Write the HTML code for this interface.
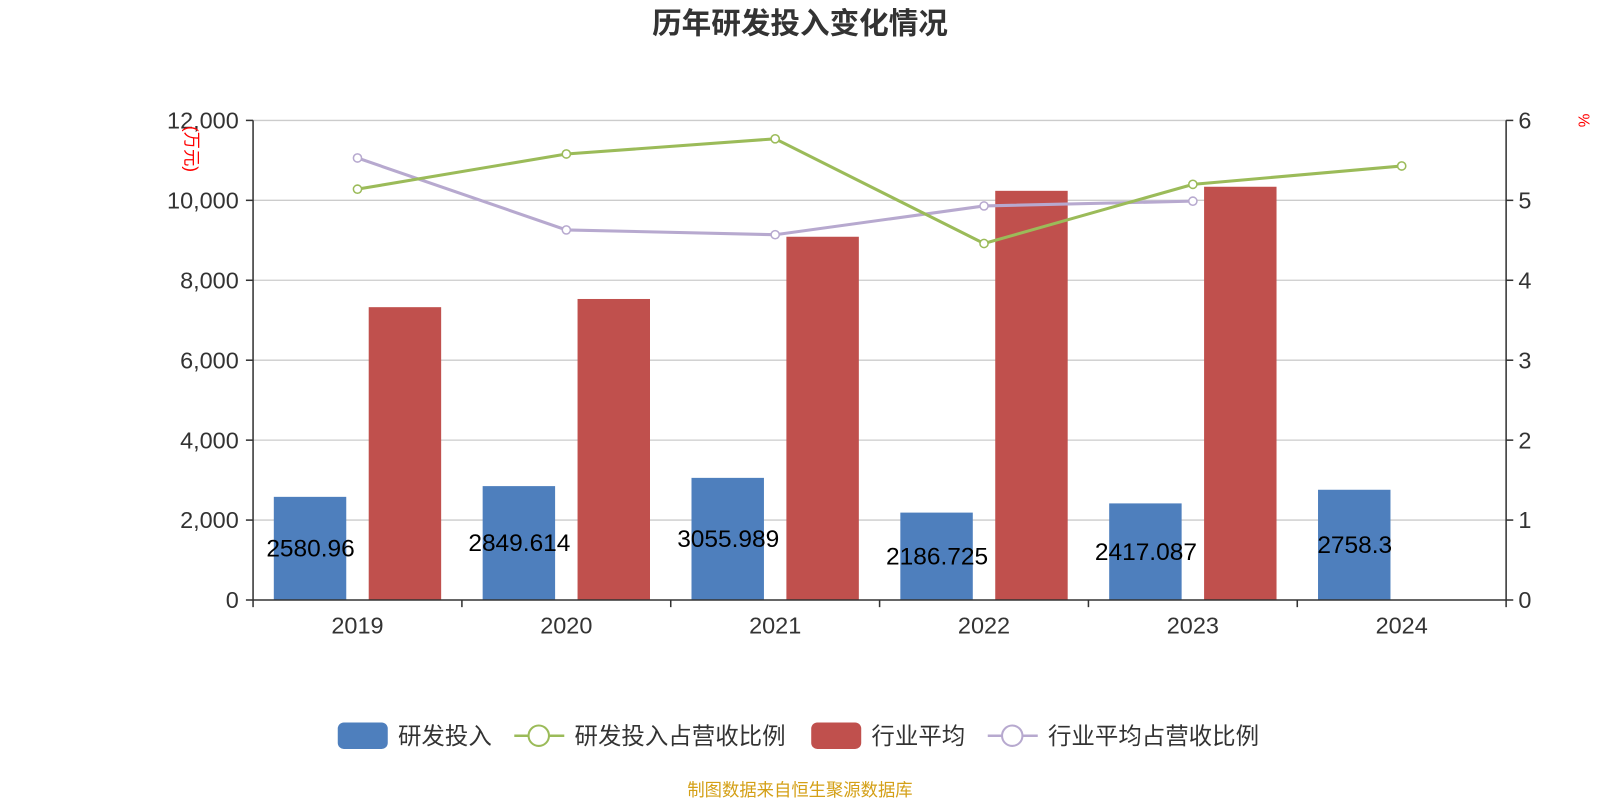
<!DOCTYPE html>
<html><head><meta charset="utf-8"><style>
body{margin:0;background:#fff;}
svg text{font-family:"Liberation Sans","Noto Sans CJK SC",sans-serif;}
</style></head><body>
<svg id="chart" width="1600" height="800" viewBox="0 0 1568 784" xmlns="http://www.w3.org/2000/svg">
<text x="784" y="33" text-anchor="middle" font-size="29" font-weight="bold" fill="#333">历年研发投入变化情况</text>
<g id="grid"></g><g id="bars"></g><g id="lines"></g><g id="axes"></g>
<text transform="translate(182,146) rotate(90)" text-anchor="middle" font-size="17" fill="red">(万元)</text>
<text transform="translate(1547,118) rotate(90)" text-anchor="middle" font-size="15" fill="red">%</text>
<g>
<g><rect x="331" y="708" width="49" height="26" rx="6" fill="#4e7fbd"/><text x="390" y="729" font-size="23" fill="#333">研发投入</text></g>
<g><line x1="504" y1="721" x2="553" y2="721" stroke="#9bbb59" stroke-width="2.5"/><circle cx="528" cy="721" r="10" fill="#fff" stroke="#9bbb59" stroke-width="2"/><text x="563" y="729" font-size="23" fill="#333">研发投入占营收比例</text></g>
<g><rect x="795" y="708" width="49" height="26" rx="6" fill="#c0504d"/><text x="854" y="729" font-size="23" fill="#333">行业平均</text></g>
<g><line x1="968" y1="721" x2="1017" y2="721" stroke="#b7a9cf" stroke-width="2.5"/><circle cx="992" cy="721" r="10" fill="#fff" stroke="#b7a9cf" stroke-width="2"/><text x="1027" y="729" font-size="23" fill="#333">行业平均占营收比例</text></g>
</g>
<text x="784" y="780" text-anchor="middle" font-size="17" fill="#d4a017">制图数据来自恒生聚源数据库</text>
</svg>
<script>
const categories=["2019","2020","2021","2022","2023","2024"];
const rdValues=[2580.96,2849.614,3055.989,2186.725,2417.087,2758.3];
const industryValues=[7327,7532,9089,10238,10340,null];
const rdRatio=[5.14,5.58,5.77,4.46,5.20,5.43];
const industryRatio=[5.53,4.63,4.57,4.93,4.99,null];
const leftTicks=[0,2000,4000,6000,8000,10000,12000];
const rightTicks=[0,1,2,3,4,5,6];
const NS="http://www.w3.org/2000/svg";
const X0=248,X1=1476,Y0=588,Y1=118;
const band=(X1-X0)/categories.length;
const yL=v=>Y0-(v/12000)*(Y0-Y1);
const yR=v=>Y0-(v/6)*(Y0-Y1);
const xC=i=>X0+band*(i+0.5);
function mk(tag,attrs,parent,txt){const e=document.createElementNS(NS,tag);for(const k in attrs)e.setAttribute(k,attrs[k]);if(txt!==undefined)e.textContent=txt;document.getElementById(parent).appendChild(e);return e;}
leftTicks.forEach((t,i)=>{
 let y=yL(t);
 if(t>0){let g=mk('line',{x1:X0,x2:X1,y1:y,y2:y,stroke:'#ccc','stroke-width':1.3},'grid');}
 mk('line',{x1:X0-7,x2:X0,y1:y,y2:y,stroke:'#333','stroke-width':1.5},'axes');
 let l=mk('text',{x:X0-14,y:y+8,'text-anchor':'end','font-size':23,fill:'#333'},'axes',t.toLocaleString('en-US'));
 
 
});
rightTicks.forEach(t=>{
 let y=yR(t);
 mk('line',{x1:X1,x2:X1+7,y1:y,y2:y,stroke:'#333','stroke-width':1.5},'axes');
 let l=mk('text',{x:X1+12,y:y+8,'font-size':23,fill:'#333'},'axes',String(t));
 
 
});
mk('line',{x1:X0,x2:X0,y1:Y1,y2:Y0,stroke:'#333','stroke-width':1.5},'axes');
mk('line',{x1:X1,x2:X1,y1:Y1,y2:Y0,stroke:'#333','stroke-width':1.5},'axes');
mk('line',{x1:X0,x2:X1,y1:Y0,y2:Y0,stroke:'#333','stroke-width':1.5},'axes');
for(let i=0;i<=categories.length;i++){mk('line',{x1:X0+band*i,x2:X0+band*i,y1:Y0,y2:Y0+7,stroke:'#333','stroke-width':1.5},'axes');}
categories.forEach((c,i)=>{
 let l=mk('text',{x:xC(i),y:Y0+33,'text-anchor':'middle','font-size':23,fill:'#333'},'axes',c);
 
 
 const bw=71;
 let b=mk('rect',{x:xC(i)-82,y:yL(rdValues[i]),width:bw,height:Y0-yL(rdValues[i]),fill:'#4e7fbd'},'bars');
 
 
 if(industryValues[i]!=null){
  let r=mk('rect',{x:xC(i)+11,y:yL(industryValues[i]),width:bw,height:Y0-yL(industryValues[i]),fill:'#c0504d'},'bars');
  
  
 }
 let v=mk('text',{x:xC(i)-46,y:(yL(rdValues[i])+Y0)/2+8,'text-anchor':'middle','font-size':24,fill:'#000'},'bars',String(rdValues[i]));
 
 
});
function line(vals,color,name){
 const pts=vals.map((v,i)=>v==null?null:[xC(i),yR(v)]).filter(p=>p);
 let p=mk('polyline',{points:pts.map(p=>p.join(',')).join(' '),fill:'none',stroke:color,'stroke-width':3},'lines');
 
 
 pts.forEach(q=>{let c=mk('circle',{cx:q[0],cy:q[1],r:4,fill:'#fff',stroke:color,'stroke-width':1.5},'lines');
  
  });
}
line(industryRatio,'#b7a9cf','industry-ratio-line');
line(rdRatio,'#9bbb59','rd-ratio-line');
</script>
</body></html>
